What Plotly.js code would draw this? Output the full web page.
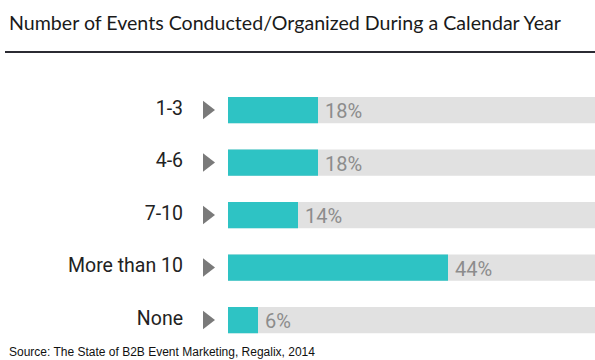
<!DOCTYPE html>
<html><head><meta charset="utf-8">
<script src="https://cdn.plot.ly/plotly-3.0.1.min.js"></script>
<style>html,body{margin:0;padding:0;background:#fff}#c{width:595px;height:360px}</style>
</head><body><div id="c"></div>
<script>
const categories = ["1-3", "4-6", "7-10", "More than 10", "None"];
const values = [18, 18, 14, 44, 6];
const fullValues = [100, 100, 100, 100, 100];
const pctLabels = values.map(v => v + "%");
const titleText = "Number of Events Conducted/Organized During a Calendar Year";
const sourceText = "Source: The State of B2B Event Marketing, Regalix, 2014";

const W = 595, H = 360;
const idx = categories.map((c, i) => i);

const traces = [
  {type: "bar", orientation: "h", x: fullValues, y: idx, marker: {color: "#e1e1e1"}, width: 0.5, hoverinfo: "skip", xaxis: "x", yaxis: "y"},
  {type: "bar", orientation: "h", x: values, y: idx, marker: {color: "#2ec3c4"}, width: 0.5, hoverinfo: "skip", xaxis: "x", yaxis: "y"},
  {type: "scatter", mode: "text", x: categories.map(() => 183), y: idx, text: categories, textposition: "middle left",
   textfont: {family: "Roboto", size: 19.5, color: "#222"}, xaxis: "x2", yaxis: "y", hoverinfo: "skip", cliponaxis: false},
  {type: "scatter", mode: "markers", x: categories.map(() => 207), y: idx,
   marker: {symbol: "triangle-right", size: 16, color: "#7a7a7a"}, xaxis: "x2", yaxis: "y", hoverinfo: "skip", cliponaxis: false}
];

const pctAnnotations = values.map((v, i) => ({
  x: v, y: idx[i], xref: "x", yref: "y", text: pctLabels[i], showarrow: false,
  xanchor: "left", yanchor: "middle", xshift: 5, yshift: -1,
  font: {family: "Roboto", size: 20, color: "#8c8c8c"}
}));

const yTop = 83.75, yBot = 346.25;
const layout = {
  width: W, height: H,
  margin: {l: 0, r: 0, t: 0, b: 0},
  paper_bgcolor: "#fff", plot_bgcolor: "rgba(0,0,0,0)",
  showlegend: false,
  barmode: "overlay",
  xaxis: {domain: [228 / W, 1], range: [0, 73.4], visible: false, fixedrange: true, anchor: "y"},
  xaxis2: {domain: [0, 1], range: [0, W], visible: false, fixedrange: true, anchor: "y"},
  yaxis: {domain: [1 - yBot / H, 1 - yTop / H], range: [4.5, -0.5], visible: false, fixedrange: true, anchor: "x"},
  shapes: [
    {type: "line", xref: "paper", yref: "paper", x0: 5 / W, x1: 1, y0: 1 - 52 / H, y1: 1 - 52 / H,
     line: {color: "#2b2b33", width: 2}}
  ],
  annotations: [
    {text: titleText, xref: "paper", yref: "paper", x: 7 / W, y: 1 - 22 / H, xanchor: "left", yanchor: "middle",
     showarrow: false, font: {family: "Lato", size: 19.6, color: "#1a1a1a"}},
    {text: sourceText, xref: "paper", yref: "paper", x: 7 / W, y: 1 - 352 / H, xanchor: "left", yanchor: "middle",
     showarrow: false, font: {family: "Liberation Sans, Arial", size: 12, color: "#111"}}
  ].concat(pctAnnotations)
};
Plotly.newPlot("c", traces, layout, {staticPlot: true, displayModeBar: false});
</script></body></html>
